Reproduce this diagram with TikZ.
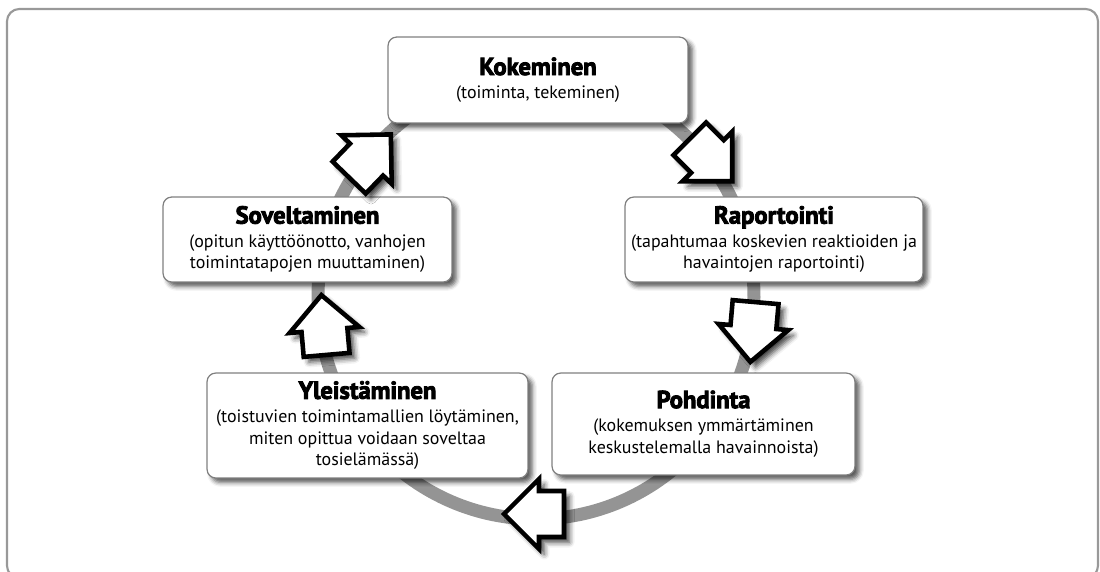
\documentclass[tikz,border=0pt]{standalone}
\usepackage{fontspec}
\setmainfont{PT Sans}[BoldFeatures={FakeBold=3.5}]
\usetikzlibrary{shadows.blur}
\tikzset{
  softshadow/.style={blur shadow={shadow xshift=2.5pt, shadow yshift=-2.5pt,
                     shadow blur radius=2.5pt, shadow opacity=65}},
  stagebox/.style={draw=black!50, line width=0.7pt, fill=white, rounded corners=5pt,
                   align=center, inner sep=0pt, softshadow,
                   font=\fontsize{10.2}{12.4}\selectfont},
  arrowline/.style={draw=black, line width=2.6pt, fill=white, line join=miter,
                    blur shadow={shadow xshift=3pt, shadow yshift=-3pt,
                    shadow blur radius=3pt, shadow opacity=75}},
  cyclearrow/.pic={
    \draw[arrowline] (-30,-23) -- (-5,-23) -- (-5,-35) -- (30,0)
                     -- (-5,35) -- (-5,23) -- (-30,23) -- cycle;
  },
  ring/.style={draw=black!42, line width=0.26cm}
}
\newcommand{\stagetitle}[1]{{\fontsize{14}{16}\selectfont\bfseries #1}\\[1pt]}

\begin{document}
\begin{tikzpicture}[x=0.02cm,y=-0.02cm]
  \useasboundingbox (0,0) rectangle (1100,572);
  \clip (0,0) rectangle (1100,572);
  % frame
  \draw[black!40, line width=1.2pt, rounded corners=7pt] (7,9) rectangle (1098,578);

  % cycle ring behind the boxes
  \draw[ring] (536,297) ellipse [x radius=218, y radius=222];

  % stages
  \node[stagebox, minimum width=6cm, minimum height=1.72cm] (kok) at (538,80)
    {\stagetitle{Kokeminen}(toiminta, tekeminen)};
  \node[stagebox, minimum width=5.96cm, minimum height=1.7cm] (rap) at (774,239.5)
    {\stagetitle{Raportointi}(tapahtumaa koskevien reaktioiden ja\\havaintojen raportointi)};
  \node[stagebox, minimum width=6.06cm, minimum height=2.04cm] (poh) at (703.5,424)
    {\stagetitle{Pohdinta}(kokemuksen ymmärtäminen\\keskustelemalla havainnoista)};
  \node[stagebox, minimum width=6.42cm, minimum height=2.1cm] (yle) at (367.5,425.5)
    {\stagetitle{Yleistäminen}(toistuvien toimintamallien löytäminen,\\miten opittua voidaan soveltaa\\tosielämässä)};
  \node[stagebox, minimum width=5.78cm, minimum height=1.7cm] (sov) at (307.5,239.5)
    {\stagetitle{Soveltaminen}(opitun käyttöönotto, vanhojen\\toimintatapojen muuttaminen)};

  % block arrows on the ring
  \pic[rotate=-45] (kokrap) at (711,160) {cyclearrow};
  \pic[rotate=-95] (rappoh) at (753,332) {cyclearrow};
  \pic[rotate=180] (pohyle) at (534,514) {cyclearrow};
  \pic[rotate=95]  (ylesov) at (324,325) {cyclearrow};
  \pic[rotate=46]  (sovkok) at (370,156) {cyclearrow};
\end{tikzpicture}
\end{document}
